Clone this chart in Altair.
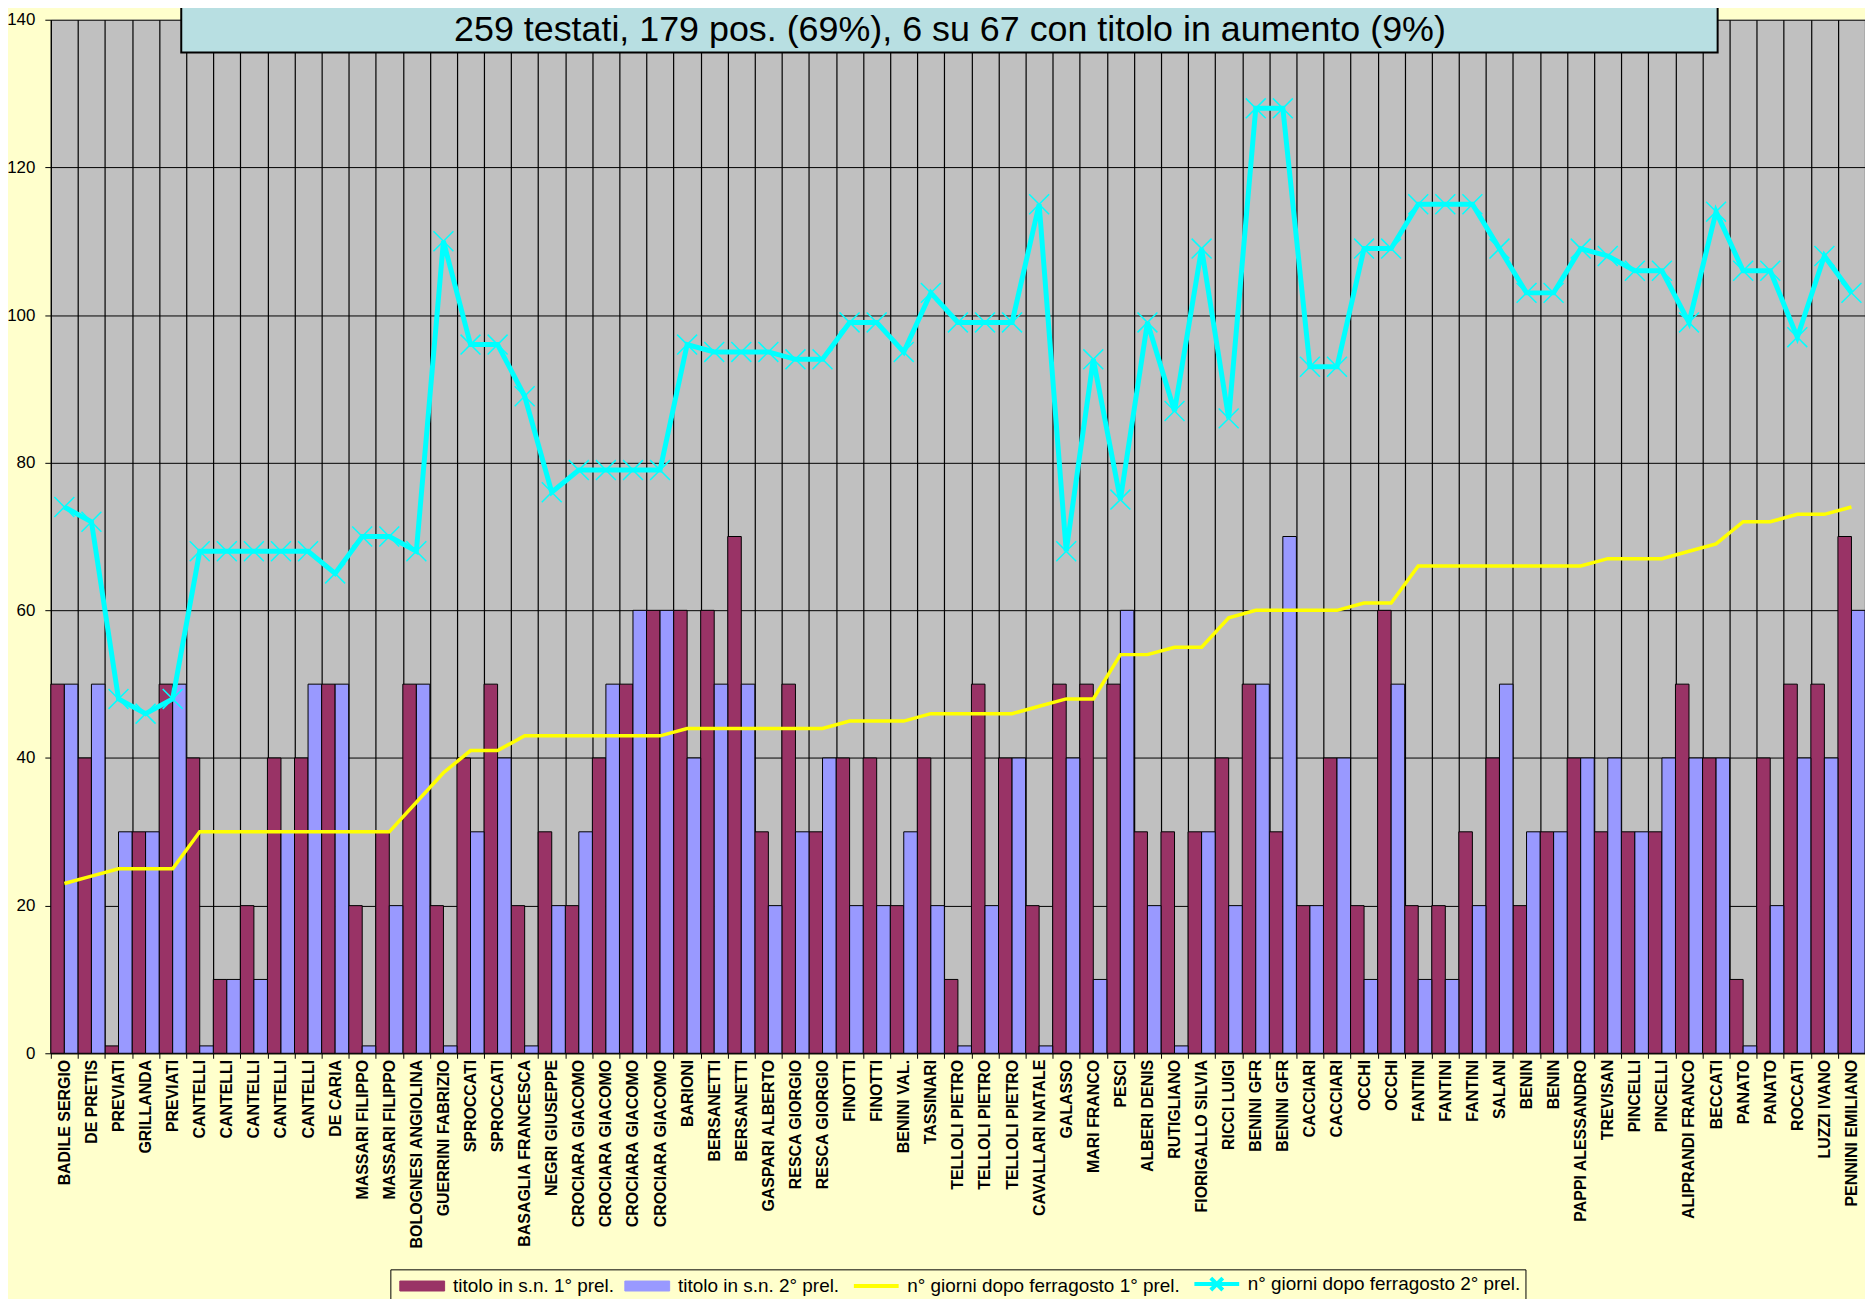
import altair as alt
import pandas as pd

names = [
    "BADILE SERGIO", "DE PRETIS", "PREVIATI", "GRILLANDA", "PREVIATI",
    "CANTELLI", "CANTELLI", "CANTELLI", "CANTELLI", "CANTELLI",
    "DE CARIA", "MASSARI FILIPPO", "MASSARI FILIPPO", "BOLOGNESI ANGIOLINA", "GUERRINI FABRIZIO",
    "SPROCCATI", "SPROCCATI", "BASAGLIA FRANCESCA", "NEGRI GIUSEPPE", "CROCIARA GIACOMO",
    "CROCIARA GIACOMO", "CROCIARA GIACOMO", "CROCIARA GIACOMO", "BARIONI", "BERSANETTI",
    "BERSANETTI", "GASPARI ALBERTO", "RESCA GIORGIO", "RESCA GIORGIO", "FINOTTI",
    "FINOTTI", "BENINI VAL.", "TASSINARI", "TELLOLI PIETRO", "TELLOLI PIETRO",
    "TELLOLI PIETRO", "CAVALLARI NATALE", "GALASSO", "MARI FRANCO", "PESCI",
    "ALBERI DENIS", "RUTIGLIANO", "FIORIGALLO SILVIA", "RICCI LUIGI", "BENINI GFR",
    "BENINI GFR", "CACCIARI", "CACCIARI", "OCCHI", "OCCHI",
    "FANTINI", "FANTINI", "FANTINI", "SALANI", "BENIN",
    "BENIN", "PAPPI ALESSANDRO", "TREVISAN", "PINCELLI", "PINCELLI",
    "ALIPRANDI FRANCO", "BECCATI", "PANATO", "PANATO", "ROCCATI",
    "LUZZI IVANO", "PENNINI EMILIANO",
]

titolo_1 = [
    50, 40, 1, 30, 50, 40, 10, 20, 40, 40,
    50, 20, 30, 50, 20, 40, 50, 20, 30, 20,
    40, 50, 60, 60, 60, 70, 30, 50, 30, 40,
    40, 20, 40, 10, 50, 40, 20, 50, 50, 50,
    30, 30, 30, 40, 50, 30, 20, 40, 20, 60,
    20, 20, 30, 40, 20, 30, 40, 30, 30, 30,
    50, 40, 10, 40, 50, 50, 70,
]

titolo_2 = [
    50, 50, 30, 30, 50, 1, 10, 10, 30, 50,
    50, 1, 20, 50, 1, 30, 40, 1, 20, 30,
    50, 60, 60, 40, 50, 50, 20, 30, 40, 20,
    20, 30, 20, 1, 20, 40, 1, 40, 10, 60,
    20, 1, 30, 20, 50, 70, 20, 40, 10, 50,
    10, 10, 20, 50, 30, 30, 40, 40, 30, 40,
    40, 40, 1, 20, 40, 40, 60,
]

giorni_1 = [
    23, 24, 25, 25, 25, 30, 30, 30, 30, 30,
    30, 30, 30, 34, 38, 41, 41, 43, 43, 43,
    43, 43, 43, 44, 44, 44, 44, 44, 44, 45,
    45, 45, 46, 46, 46, 46, 47, 48, 48, 54,
    54, 55, 55, 59, 60, 60, 60, 60, 61, 61,
    66, 66, 66, 66, 66, 66, 66, 67, 67, 67,
    68, 69, 72, 72, 73, 73, 74,
]

giorni_2 = [
    74, 72, 48, 46, 48, 68, 68, 68, 68, 68,
    65, 70, 70, 68, 110, 96, 96, 89, 76, 79,
    79, 79, 79, 96, 95, 95, 95, 94, 94, 99,
    99, 95, 103, 99, 99, 99, 115, 68, 94, 75,
    99, 87, 109, 86, 128, 128, 93, 93, 109, 109,
    115, 115, 115, 109, 103, 103, 109, 108, 106, 106,
    99, 114, 106, 106, 97, 108, 103,
]

series = [
    "titolo in s.n. 1° prel.",
    "titolo in s.n. 2° prel.",
    "n° giorni dopo ferragosto 1° prel.",
    "n° giorni dopo ferragosto 2° prel.",
]
colors = ["#993366", "#9999FF", "#FFFF00", "#00FFFF"]
title_text = "259 testati, 179 pos. (69%), 6 su 67 con titolo in aumento (9%)"
y_ticks = [0, 20, 40, 60, 80, 100, 120, 140]

keys = [f"{i:02d}" for i in range(len(names))]
rows = []
for s, vals in zip(series, [titolo_1, titolo_2, giorni_1, giorni_2]):
    for k, v in zip(keys, vals):
        rows.append({"k": k, "serie": s, "v": v})
df = pd.DataFrame(rows)

label_expr = "[" + ",".join("'" + n + "'" for n in names) + "][toNumber(datum.value)]"

FONT = "Liberation Sans"

x_enc = alt.X(
    "k:O",
    sort=keys,
    scale=alt.Scale(paddingInner=0, paddingOuter=0),
    axis=alt.Axis(
        title=None,
        labelExpr=label_expr,
        labelAngle=270,
        labelAlign="right",
        labelBaseline="middle",
        labelFontSize=16,
        labelFontWeight="bold",
        labelPadding=1,
        tickSize=5,
        tickBand="extent",
        grid=True,
        gridColor="black",
        gridWidth=1.2,
        labelOverlap=False,
        labelLimit=400,
    ),
)
y_enc = alt.Y(
    "v:Q",
    scale=alt.Scale(domain=[0, 140], nice=False),
    axis=alt.Axis(
        title=None,
        values=y_ticks,
        labelFontSize=17,
        tickSize=6,
        labelPadding=10,
        grid=True,
        gridColor="black",
        gridWidth=1,
    ),
)

is_bar = f"(datum.value == '{series[0]}' || datum.value == '{series[1]}')"
bar_path = "M-1,-1H8V1H-1Z"
line_path = "M-1,0H8"
cross_path = "M-1,0H8M2.3,-1.2L4.7,1.2M2.3,1.2L4.7,-1.2"

legend = alt.Legend(
    title=None,
    orient="none",
    legendX=341,
    legendY=1255,
    direction="horizontal",
    strokeColor="black",
    fillColor="#FFFFCC",
    padding=5,
    symbolSize=100,
    symbolType=alt.ExprRef(expr=f"{is_bar} ? '{bar_path}' : (datum.value == '{series[2]}' ? '{line_path}' : '{cross_path}')"),
    symbolFillColor=alt.ExprRef(expr=f"{is_bar} ? scale('color', datum.value) : 'transparent'"),
    symbolStrokeColor=alt.ExprRef(expr=f"{is_bar} ? 'black' : scale('color', datum.value)"),
    symbolStrokeWidth=alt.ExprRef(expr=f"{is_bar} ? 1 : 4"),
    symbolOpacity=1,
    labelFont=FONT,
    labelFontSize=19,
    labelColor="black",
    labelOffset=39,
    columnPadding=6,
    labelLimit=500,
)

color_enc = alt.Color(
    "serie:N",
    scale=alt.Scale(domain=series, range=colors),
    legend=legend,
)

base = alt.Chart(df)

bars = base.transform_filter(
    alt.FieldOneOfPredicate(field="serie", oneOf=series[:2])
).mark_bar(stroke="black", strokeWidth=1).encode(
    x=x_enc,
    xOffset=alt.XOffset("serie:N", sort=series[:2], scale=alt.Scale(paddingInner=0, paddingOuter=0)),
    y=y_enc,
    color=color_enc,
)

line1 = base.transform_filter(
    alt.datum.serie == series[2]
).mark_line(strokeWidth=3.5).encode(x=x_enc, y=y_enc, color=color_enc)

line2 = base.transform_filter(
    alt.datum.serie == series[3]
).mark_line(strokeWidth=5).encode(x=x_enc, y=y_enc, color=color_enc)

pts = base.transform_filter(
    alt.datum.serie == series[3]
).mark_point(
    shape="M-1,-1L1,1M-1,1L1,-1", size=400, filled=False, strokeWidth=1.5, color="#00FFFF", opacity=1
).encode(x=x_enc, y=y_enc)

tdf = pd.DataFrame({"t": [title_text]})
box = alt.Chart(tdf).mark_rect(fill="#B8DFE2", stroke="black", strokeWidth=2).encode(
    x=alt.value(131), x2=alt.value(1674), y=alt.value(-30), y2=alt.value(33)
)
txt = alt.Chart(tdf).mark_text(
    font=FONT, fontSize=36, color="black", align="center", baseline="alphabetic"
).encode(x=alt.value(903), y=alt.value(21), text="t:N")

chart = alt.layer(bars, line1, line2, pts, box, txt).properties(
    width=1822,
    height=1038,
    padding={"left": 43, "top": 9, "right": 0, "bottom": 244},
    autosize=alt.AutoSizeParams(type="none"),
    background="#FFFFCC",
).configure_view(
    fill="#C0C0C0", strokeWidth=0
).configure_axis(
    labelFont=FONT, labelColor="black", domainColor="black", tickColor="black"
)

chart.save("out.html", embed_options={"renderer": "svg", "actions": False})
